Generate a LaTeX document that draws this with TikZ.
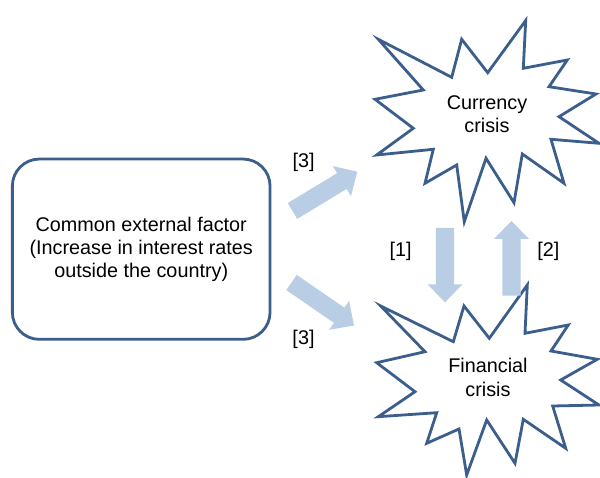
\documentclass[tikz,border=0pt]{standalone}
\usepackage{fontspec}
\setmainfont{Liberation Sans}
\usetikzlibrary{calc}
\definecolor{edgeblue}{HTML}{3B5E8C}
\definecolor{arrowblue}{HTML}{B9CDE5}
% filled block arrow from #1 (tail) to #2 (tip)
\newcommand\bkarrow[2]{%
  \coordinate (hb) at ($(#2)!18pt!(#1)$);
  \fill[arrowblue] ($(#1)!9.2pt!90:(#2)$) -- ($(hb)!9.2pt!90:(#2)$)
    -- ($(hb)!17.5pt!90:(#2)$) -- (#2) -- ($(hb)!17.5pt!-90:(#2)$)
    -- ($(hb)!9.2pt!-90:(#2)$) -- ($(#1)!9.2pt!-90:(#2)$) -- cycle;}
\begin{document}
\begin{tikzpicture}[x=1pt,y=-1pt,
  outline/.style={draw=edgeblue,line width=2.8pt,line join=miter},
  txt/.style={font=\fontsize{19.8}{23.3}\selectfont,align=center,inner sep=0pt},
  tag/.style={font=\fontsize{19.8}{23.3}\selectfont,inner sep=0pt}]
\useasboundingbox[fill=white] (0,0) rectangle (600,478);

% common factor box
\node[outline,rounded corners=27pt,minimum width=257.7pt,minimum height=180.3pt,
      txt] (factor) at (141.2,249.2)
  {Common external factor\\(Increase in interest rates\\outside the country)};

% currency crisis burst
\draw[outline,fill=white] (378.3,39.3) -- (451.7,77.3) -- (461.7,39.3) -- (487.7,72.7)
  -- (525.7,20.5) -- (523.3,68.3) -- (567.3,60) -- (549,86.7) -- (596,94)
  -- (559,116.7) -- (599,143.3) -- (551,139.3) -- (564,183.3) -- (522.3,154)
  -- (514,202.7) -- (486,158.3) -- (464.3,221.7) -- (456.7,165) -- (425,183.3)
  -- (433.3,149.3) -- (376.7,155) -- (413.3,128.3) -- (375,99.3) -- (423.3,90) -- cycle;
\node[txt] (currency) at (487,114) {Currency\\crisis};

% financial crisis burst
\draw[outline,fill=white] (380.7,306) -- (453.3,341.7) -- (464,306) -- (489.3,338.3)
  -- (527.3,285) -- (525,333.3) -- (568.3,325) -- (551,351) -- (597.3,359.3)
  -- (560.7,380) -- (599,405) -- (552.7,406) -- (565.7,448.3) -- (523.3,419.3)
  -- (515,463.3) -- (486.7,420) -- (466.7,475) -- (459,429) -- (426.7,443.3)
  -- (436.7,412.7) -- (378.3,416.7) -- (415,391.7) -- (376.7,362.7) -- (425,351.7) -- cycle;
\node[txt] (financial) at (488,377.5) {Financial\\crisis};

% block arrows
\coordinate (f2c-a) at (292.5,211);   \coordinate (f2c-b) at (357.3,171.7);
\coordinate (f2f-a) at (291.5,282.5); \coordinate (f2f-b) at (354,325.5);
\coordinate (c2f-a) at (445,228);     \coordinate (c2f-b) at (445,302.3);
\coordinate (f2cc-a) at (511.5,295.7); \coordinate (f2cc-b) at (511.5,221);
\bkarrow{f2c-a}{f2c-b}
\bkarrow{f2f-a}{f2f-b}
\bkarrow{c2f-a}{c2f-b}
\bkarrow{f2cc-a}{f2cc-b}

% labels
\node[tag] (l3a) at (303.7,162.5) {[3]};
\node[tag] (l1)  at (400.7,251) {[1]};
\node[tag] (l2)  at (548.3,251) {[2]};
\node[tag] (l3b) at (303.5,339) {[3]};
\end{tikzpicture}
\end{document}
